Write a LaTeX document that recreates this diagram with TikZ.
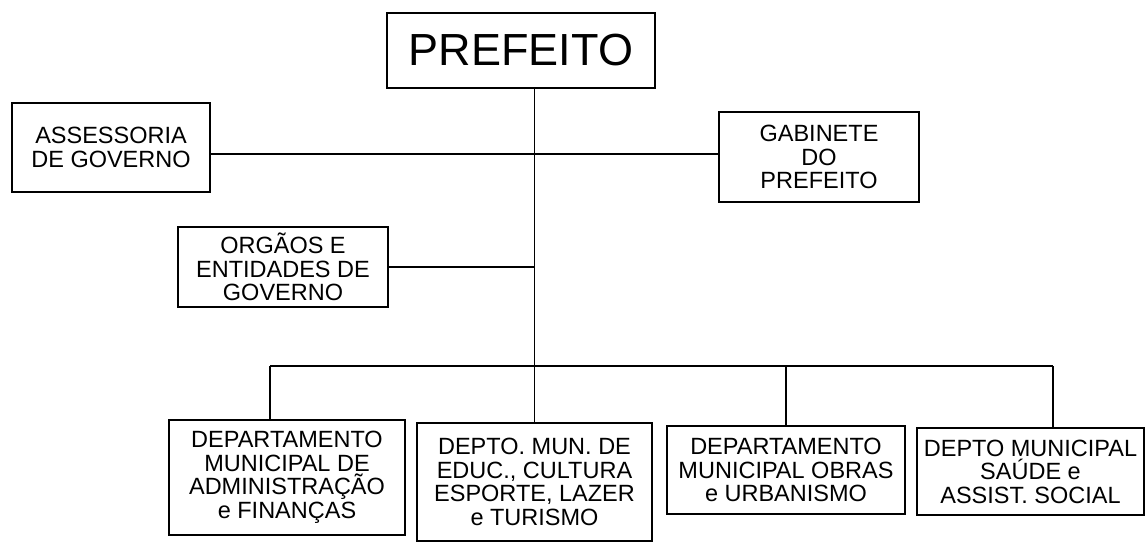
\documentclass[tikz,border=0pt]{standalone}
\usepackage{fontspec}
\setmainfont{Liberation Sans}
\begin{document}
\begin{tikzpicture}[x=1pt,y=-1pt,
  orgbox/.style={draw, line width=1.3pt, align=center, inner sep=0pt,
    font=\fontsize{23.5}{23.5}\selectfont},
  link/.style={line width=1.3pt}]
\useasboundingbox (0,0) rectangle (1145,542);
\node[orgbox, minimum width=268pt, minimum height=75pt, font=\fontsize{45}{46}\selectfont] (pref) at (521,50.5) {PREFEITO};
\node[orgbox, minimum width=198pt, minimum height=89pt] (ass) at (111,147.5) {ASSESSORIA\\DE GOVERNO};
\node[orgbox, minimum width=200pt, minimum height=90pt] (gab) at (819,157) {GABINETE\\DO\\PREFEITO};
\node[orgbox, minimum width=210pt, minimum height=80pt] (org) at (283,267) {ORGÃOS E\\ENTIDADES DE\\GOVERNO};
\node[orgbox, minimum width=236pt, minimum height=115pt] (d1) at (287,477.5) {DEPARTAMENTO\\MUNICIPAL DE\\ADMINISTRAÇÃO\\e FINANÇAS};
\node[orgbox, minimum width=235pt, minimum height=118pt] (d2) at (534.5,482) {DEPTO. MUN. DE\\EDUC., CULTURA\\ESPORTE, LAZER\\e TURISMO};
\node[orgbox, minimum width=238pt, minimum height=88pt] (d3) at (786,470) {DEPARTAMENTO\\MUNICIPAL OBRAS\\e URBANISMO};
\node[orgbox, minimum width=227pt, minimum height=87pt] (d4) at (1030.5,471.5) {DEPTO MUNICIPAL\\SAÚDE e\\ASSIST. SOCIAL};
\coordinate (hub) at (534.5,154);
\coordinate (bus) at (534.5,366);
\coordinate (b1) at (270,366);
\coordinate (b4) at (1053,366);
\draw[link] (pref.south -| d2.north) -- (d2.north);
\draw[link] (ass.east |- hub) -- (gab.west |- hub);
\draw[link] (org.east) -- (org.east -| hub);
\draw[link] (b1) -- (b4);
\draw[link] (b1) -- (b1 |- d1.north);
\draw[link] (d3.north |- bus) -- (d3.north);
\draw[link] (b4) -- (b4 |- d4.north);
\end{tikzpicture}
\end{document}
